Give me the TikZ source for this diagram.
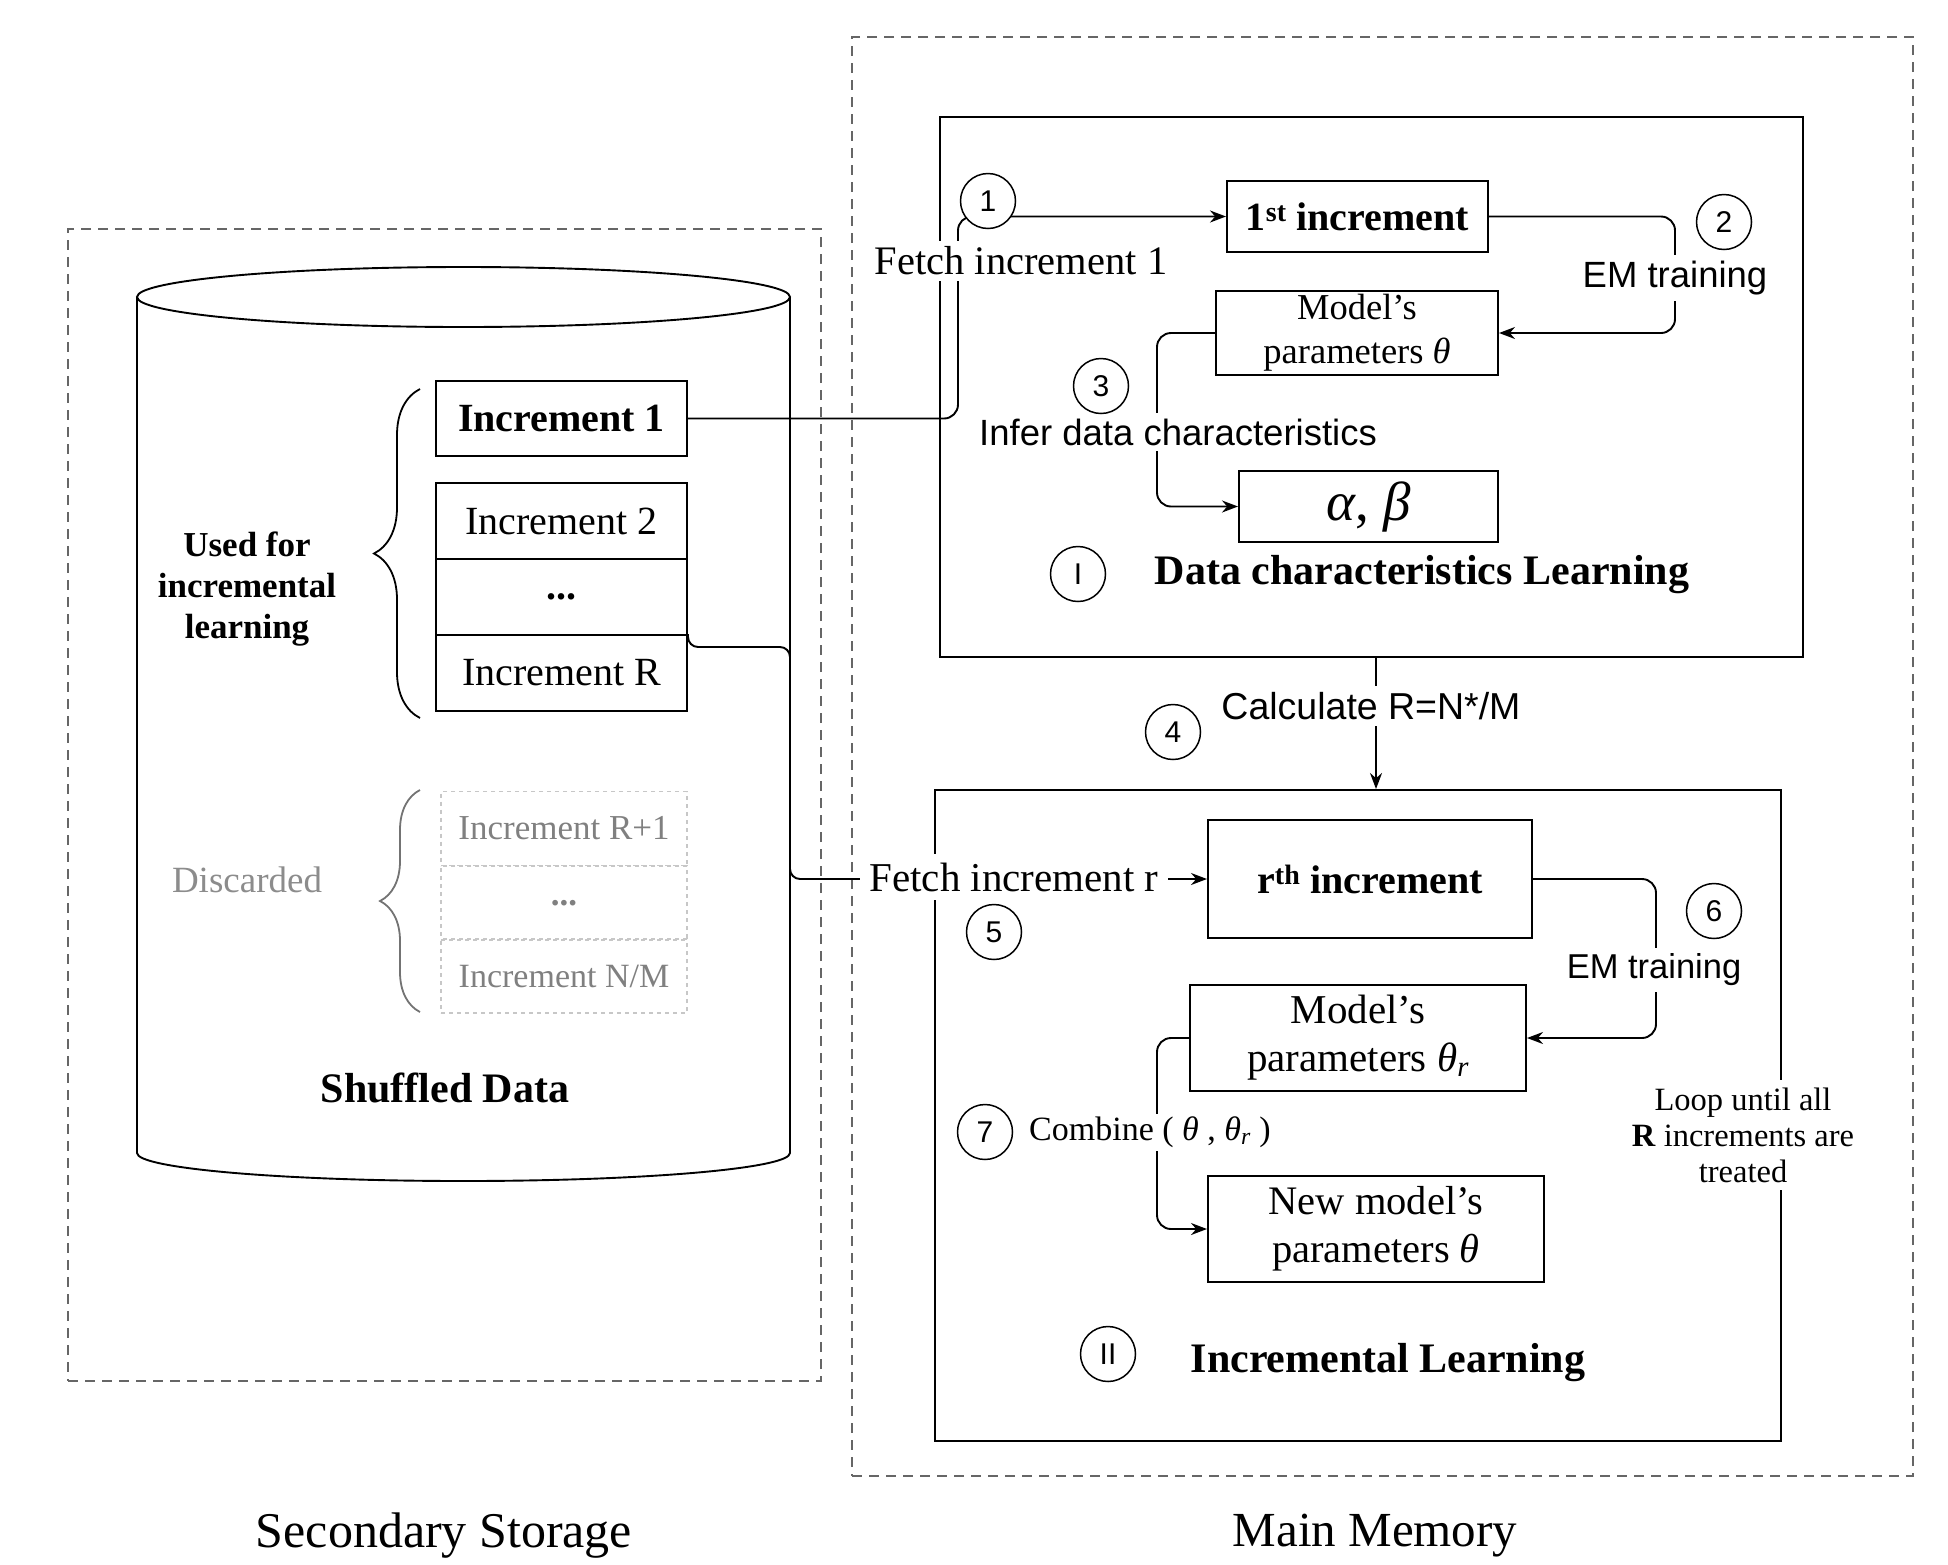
\documentclass[tikz,border=0pt]{standalone}
\usepackage{fontspec}
\setmainfont{Liberation Serif}
\setsansfont{Liberation Sans}
\usetikzlibrary{arrows.meta,decorations.pathreplacing}
\newcommand{\fsz}[2]{\fontsize{#1}{#2}\selectfont}
\begin{document}
\begin{tikzpicture}[x=1pt,y=-1pt,
  outer/.style={draw=black!60, line width=2pt, dash pattern=on 10pt off 7pt, inner sep=0pt},
  frame/.style={draw, line width=2pt, inner sep=0pt},
  box/.style={draw, line width=2pt, inner sep=0pt, align=center},
  incbox/.style={box, minimum width=251pt, minimum height=76pt, font=\fsz{40}{46}},
  graybox/.style={draw=black!22, line width=1.3pt, dash pattern=on 4pt off 4pt, inner sep=0pt,
     minimum width=246pt, minimum height=74pt, text=black!50, font=\fsz{35}{40}},
  lbl/.style={fill=white, inner sep=6pt, align=center},
  num/.style={circle, draw, line width=1.5pt, fill=white, minimum size=55pt, inner sep=0pt,
     font=\sffamily\fsz{30}{34}},
  arr/.style={-{Stealth[length=16pt,width=12pt]}, line width=1.9pt, rounded corners=14pt},
  brc/.style={decorate, line width=1.8pt},
]
\useasboundingbox (0,0) rectangle (1948,1564);

% outer dashed regions
\node[outer, minimum width=753pt, minimum height=1152pt] (sec) at (444.5,805) {};
\node[outer, minimum width=1061pt, minimum height=1439pt] (mainm) at (1382.5,756.5) {};

% cylinder
\draw[line width=1.9pt] (137,297) -- (137,1153)
   arc[start angle=180, end angle=360, x radius=326.5pt, y radius=28pt] -- (790,297);
\draw[line width=1.9pt] (463.5,297) ellipse [x radius=326.5pt, y radius=30pt];

% increments
\node[incbox, font=\bfseries\fsz{40}{46}, minimum height=75pt] (inc1) at (561.5,418.5) {Increment 1};
\node[incbox] (inc2) at (561.5,521) {Increment 2};
\node[incbox] (dots) at (561.5,597) {\textbf{...}};
\node[incbox] (incR) at (561.5,673) {Increment R};

\node[graybox] (g1) at (564,828.5) {Increment R+1};
\node[graybox] (g2) at (564,903) {\textbf{...}};
\node[graybox, font=\fsz{34}{38}] (g3) at (564,976) {Increment N/M};

% braces
\draw[brc, decoration={brace, amplitude=46pt}] (420,718) -- (420,389);
\draw[brc, draw=black!55, decoration={brace, amplitude=40pt}] (420,1012) -- (420,790);

\node[align=center, font=\bfseries\fsz{35}{41}] (used) at (247,589) {Used for\\incremental\\learning};
\node[text=black!45, font=\fsz{37}{42}] (disc) at (247,880) {Discarded};
\node[font=\bfseries\fsz{42}{48}] (shuf) at (445,1088) {Shuffled Data};

\node[font=\fsz{50}{56}] (sstor) at (444,1536) {Secondary Storage};
\node[font=\fsz{49}{56}] (mmem) at (1375,1536) {Main Memory};

% frames I and II
\node[frame, minimum width=863pt, minimum height=540pt] (boxI) at (1371.5,387) {};
\node[frame, minimum width=846pt, minimum height=651pt] (boxII) at (1358,1115.5) {};

% boxes in I
\node[box, minimum width=261pt, minimum height=71pt, font=\bfseries\fsz{40}{46}] (first) at (1357.5,216.5) {1\textsuperscript{st} increment};
\node[box, minimum width=282pt, minimum height=84pt, font=\fsz{36.5}{44}] (modA) at (1357,333) {Model's\\parameters \textit{θ}};
\node[box, minimum width=259pt, minimum height=71pt, font=\fsz{55}{60}] (ab) at (1368.5,506.5) {\textit{α}, \textit{β}};

% boxes in II
\node[box, minimum width=324pt, minimum height=118pt, font=\bfseries\fsz{40}{46}] (rth) at (1370,879) {r\textsuperscript{th} increment};
\node[box, minimum width=336pt, minimum height=106pt, font=\fsz{41}{48}] (modB) at (1358,1038) {Model's\\parameters \textit{θ}\textsubscript{\textit{r}}};
\node[box, minimum width=336pt, minimum height=106pt, font=\fsz{40.5}{48}] (newm) at (1376,1229) {New model's\\parameters \textit{θ}};

% bend helpers
\coordinate (bA) at (958,300);
\coordinate (bB) at (790,647);
\coordinate (bC) at (1675,280);
\coordinate (bD) at (1157,420);
\coordinate (bE) at (1656,960);
\coordinate (bF) at (1157,1130);
\coordinate (vx) at (1376,0);

% connectors
\draw[arr] (inc1.east) -| (bA) |- (first.west);
\draw[arr, rounded corners=10pt] (incR.north east) |- (bB) |- (rth.west);
\draw[arr] (first.east) -| (bC) |- (modA.east);
\draw[arr] (modA.west) -| (bD) |- (ab.west);
\draw[arr] (boxI.south -| vx) -- (boxII.north -| vx);
\draw[arr] (rth.east) -| (bE) |- (modB.east);
\draw[arr] (modB.west) -| (bF) |- (newm.west);

% labels
\node[lbl, font=\fsz{40.5}{46}] (lf1) at (1021,261) {Fetch increment 1};
\node[lbl, font=\fsz{41}{46}, inner sep=9pt] (lfr) at (1014,877) {Fetch increment r};
\node[lbl, font=\sffamily\fsz{36.5}{42}] (lem1) at (1675,278) {EM training};
\node[lbl, font=\sffamily\fsz{36.5}{40}] (linf) at (1178,432) {Infer data characteristics};
\node[lbl, font=\sffamily\fsz{37.5}{42}] (lcalc) at (1371,706) {Calculate R=N*/M};
\node[lbl, font=\sffamily\fsz{34.5}{40}] (lem2) at (1654,970) {EM training};
\node[lbl, font=\fsz{34}{38}, anchor=west, inner sep=3pt] (lcomb) at (1026,1132) {Combine ( \textit{θ} , \textit{θ}\textsubscript{\textit{r}} )};
\node[lbl, font=\fsz{32.5}{36}, inner sep=8pt] (lloop) at (1743,1135) {Loop until all\\\textbf{R} increments are\\treated};

% numbered circles
\node[num] (c1) at (988,201) {1};
\node[num] (c2) at (1724,222) {2};
\node[num] (c3) at (1101,386) {3};
\node[num] (c4) at (1173,732) {4};
\node[num] (c5) at (994,932) {5};
\node[num] (c6) at (1714,911) {6};
\node[num] (c7) at (985,1132) {7};
\node[num] (cI) at (1078,574) {I};
\node[num] (cII) at (1108,1354) {II};

% titles
\node[font=\bfseries\fsz{42}{48}] (tI) at (1422,575) {Data characteristics Learning};
\node[font=\bfseries\fsz{42}{48}] (tII) at (1388,1363) {Incremental Learning};
\end{tikzpicture}
\end{document}
